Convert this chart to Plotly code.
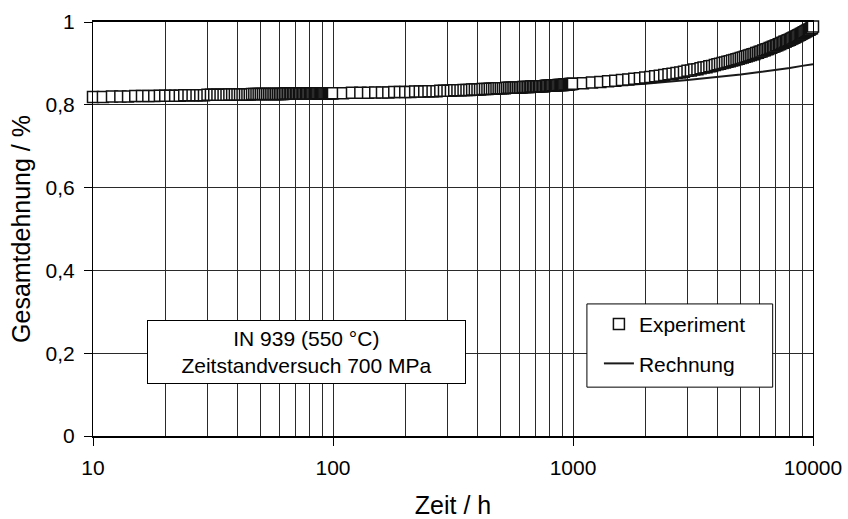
import plotly.graph_objects as go

# ---------------- data ----------------
# Experiment: sampling times (h) – 1 h steps in first decade, 10 h in second, 100 h in third
exp_t_dec1 = list(range(10, 100, 1))
exp_t_dec2 = list(range(100, 1000, 10))
exp_t_dec3 = list(range(1000, 10000, 100))
exp_t_end = [10000]

exp_y_dec1 = [
    0.819, 0.819, 0.820, 0.820, 0.820, 0.821, 0.821, 0.821, 0.821, 0.822,
    0.822, 0.822, 0.822, 0.822, 0.823, 0.823, 0.823, 0.823, 0.823, 0.823,
    0.824, 0.824, 0.824, 0.824, 0.824, 0.824, 0.824, 0.825, 0.825, 0.825,
    0.825, 0.825, 0.825, 0.825, 0.825, 0.825, 0.826, 0.826, 0.826, 0.826,
    0.826, 0.826, 0.826, 0.826, 0.826, 0.826, 0.826, 0.826, 0.826, 0.826,
    0.826, 0.826, 0.826, 0.827, 0.827, 0.827, 0.827, 0.827, 0.827, 0.827,
    0.827, 0.827, 0.827, 0.827, 0.827, 0.827, 0.827, 0.827, 0.827, 0.827,
    0.827, 0.827, 0.827, 0.827, 0.827, 0.828, 0.828, 0.828, 0.828, 0.828,
    0.828, 0.828, 0.828, 0.828, 0.828, 0.828, 0.828, 0.828, 0.828, 0.828,
]
exp_y_dec2 = [
    0.828, 0.828, 0.829, 0.829, 0.829, 0.830, 0.830, 0.830, 0.831, 0.831,
    0.831, 0.831, 0.832, 0.832, 0.832, 0.833, 0.833, 0.833, 0.834, 0.834,
    0.834, 0.834, 0.835, 0.835, 0.835, 0.836, 0.836, 0.836, 0.837, 0.837,
    0.837, 0.837, 0.838, 0.838, 0.838, 0.839, 0.839, 0.839, 0.840, 0.840,
    0.840, 0.840, 0.840, 0.841, 0.841, 0.841, 0.841, 0.842, 0.842, 0.842,
    0.842, 0.842, 0.843, 0.843, 0.843, 0.843, 0.843, 0.844, 0.844, 0.844,
    0.844, 0.844, 0.845, 0.845, 0.845, 0.845, 0.845, 0.846, 0.846, 0.846,
    0.846, 0.846, 0.847, 0.847, 0.847, 0.847, 0.847, 0.848, 0.848, 0.848,
    0.848, 0.848, 0.849, 0.849, 0.849, 0.849, 0.849, 0.850, 0.850, 0.850,
]
exp_y_dec3 = [
    0.851, 0.852, 0.854, 0.855, 0.857, 0.858, 0.860, 0.861, 0.863, 0.864,
    0.866, 0.867, 0.869, 0.870, 0.872, 0.874, 0.875, 0.877, 0.878, 0.880,
    0.882, 0.883, 0.885, 0.886, 0.888, 0.890, 0.891, 0.893, 0.894, 0.896,
    0.898, 0.899, 0.901, 0.902, 0.904, 0.905, 0.907, 0.908, 0.910, 0.911,
    0.913, 0.914, 0.916, 0.917, 0.919, 0.920, 0.922, 0.923, 0.925, 0.926,
    0.928, 0.929, 0.931, 0.932, 0.934, 0.935, 0.937, 0.938, 0.940, 0.941,
    0.943, 0.944, 0.946, 0.947, 0.949, 0.950, 0.952, 0.953, 0.955, 0.956,
    0.957, 0.959, 0.960, 0.962, 0.963, 0.965, 0.966, 0.968, 0.969, 0.971,
    0.972, 0.974, 0.975, 0.977, 0.978, 0.980, 0.981, 0.982, 0.984, 0.985,
]
exp_y_end = [0.989]

exp_t = exp_t_dec1 + exp_t_dec2 + exp_t_dec3 + exp_t_end
exp_y = exp_y_dec1 + exp_y_dec2 + exp_y_dec3 + exp_y_end

# Rechnung (calculation)
calc_t = [10, 20, 50, 100, 200, 500, 1000, 2000, 3000, 4000, 5000, 6000, 7000, 8000, 9000, 10000]
calc_y = [0.810, 0.813, 0.816, 0.819, 0.823, 0.830, 0.840, 0.851, 0.860, 0.867, 0.873,
          0.879, 0.884, 0.889, 0.894, 0.898]

x_major = [10, 100, 1000, 10000]
x_major_labels = ["10", "100", "1000", "10000"]
x_minor = [k * d for d in (10, 100, 1000) for k in range(2, 10)]

series_names = ["Experiment", "Rechnung"]
box_text = "IN 939 (550 °C)<br>Zeitstandversuch 700 MPa"
x_title = "Zeit / h"
y_title = "Gesamtdehnung / %"

FONT = "Liberation Sans, Arial, sans-serif"

fig = go.Figure()
fig.add_trace(go.Scatter(
    x=calc_t, y=calc_y, mode="lines", name=series_names[1],
    line=dict(color="#1a1a1a", width=2),
    legendrank=2, legendgroup="b",
))
fig.add_trace(go.Scatter(
    x=exp_t, y=exp_y, mode="markers", name=series_names[0],
    marker=dict(symbol="square", size=11, color="white",
                line=dict(color="#111111", width=1.5)),
    cliponaxis=False, legendrank=1, legendgroup="a",
))

fig.add_annotation(
    x=0.2965, y=0.203, xref="paper", yref="paper",
    xanchor="center", yanchor="middle",
    text=box_text, showarrow=False,
    font=dict(family=FONT, size=21, color="black"),
    bgcolor="white", bordercolor="black", borderwidth=1, borderpad=6,
    width=305, height=50, align="center",
)

# frame behind the legend entries
fig.add_shape(
    type="rect", xref="paper", yref="paper",
    x0=0.686, x1=0.944, y0=0.118, y1=0.319,
    line=dict(color="black", width=1), fillcolor="white", layer="above",
)

fig.update_layout(
    width=848, height=519,
    margin=dict(l=93, r=35, t=22, b=83),
    plot_bgcolor="white", paper_bgcolor="white",
    font=dict(family=FONT, size=21, color="black"),
    separators=", ",
    showlegend=True,
    legend=dict(
        x=0.686, y=0.319, xanchor="left", yanchor="top",
        bgcolor="rgba(0,0,0,0)", borderwidth=0,
        font=dict(family=FONT, size=21, color="black"),
        traceorder="grouped", tracegroupgap=9,
        indentation=12,
    ),
    xaxis=dict(
        type="log", range=[1, 4], automargin=False,
        tickmode="array", tickvals=x_major, ticktext=x_major_labels,
        ticks="outside", ticklen=8, tickcolor="black", tickwidth=1,
        ticklabelstandoff=4,
        showgrid=True, gridcolor="#2a2a2a", gridwidth=1,
        minor=dict(tickmode="array", tickvals=x_minor, showgrid=True,
                   gridcolor="#2a2a2a", gridwidth=1, ticks=""),
        showline=True, linecolor="black", linewidth=2, mirror=True,
        title=dict(text=x_title, standoff=27),
        zeroline=False,
    ),
    yaxis=dict(
        range=[0, 1], tickmode="linear", tick0=0, dtick=0.2, automargin=False,
        ticks="outside", ticklen=8, tickcolor="black", tickwidth=1,
        ticklabelstandoff=5,
        showgrid=True, gridcolor="#2a2a2a", gridwidth=1,
        showline=True, linecolor="black", linewidth=1, mirror=True,
        title=dict(text=y_title, standoff=7),
        zeroline=False,
    ),
)

fig.write_html(
    "out.html",
    config={"displayModeBar": False},
    post_script="document.body.style.margin='0';document.body.style.overflow='hidden';",
)
